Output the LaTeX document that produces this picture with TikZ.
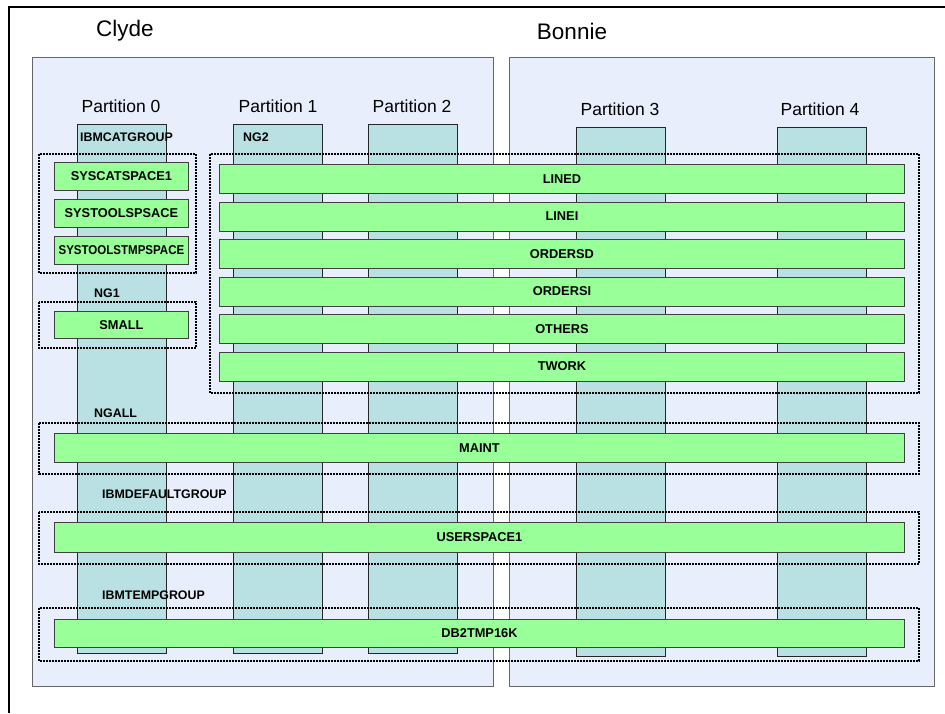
\documentclass[tikz,border=0pt]{standalone}
\usepackage{fontspec}
\setmainfont{Liberation Sans}
\begin{document}
\begin{tikzpicture}[x=1pt,y=-1pt,
  machine/.style={draw=black!60,fill=machinefill,line width=1pt},
  partcol/.style={draw=black!85,fill=colfill,line width=0.9pt},
  groupbox/.style={draw=black,line width=2.8pt,dash pattern=on 2pt off 1pt},
  tsbar/.style={draw=black!75,fill=barfill,line width=0.9pt,anchor=north west,inner sep=0pt,
    font=\fontsize{12.8}{14}\selectfont\bfseries},
  hostlabel/.style={font=\fontsize{22.5}{26}\selectfont},
  partlabel/.style={font=\fontsize{17.5}{20}\selectfont},
  grouplabel/.style={anchor=west,inner sep=0pt,font=\fontsize{12.4}{14}\selectfont\bfseries}]
\definecolor{machinefill}{HTML}{E9EEFC}
\definecolor{colfill}{HTML}{B9E0E3}
\definecolor{barfill}{HTML}{99FF99}
\useasboundingbox (0,0) rectangle (945,713);
% outer frame
\draw[line width=2pt] (945,7) -- (9,7) -- (9,713);
% machines
\node[machine,anchor=north west,minimum width=461pt,minimum height=629pt,inner sep=0pt] (clydebox) at (32,57) {};
\node[machine,anchor=north west,minimum width=425pt,minimum height=629pt,inner sep=0pt] (bonniebox) at (509,57) {};
\node[hostlabel] (clyde) at (125,31) {Clyde};
\node[hostlabel] (bonnie) at (572,31) {Bonnie};
% partitions
\foreach \n/\x/\t in {0/77/124,1/233/124,2/368/124,3/576/127,4/777/127}{
  \node[partcol,anchor=north west,minimum width=89pt,minimum height=529pt,inner sep=0pt] (p\n) at (\x,\t) {};
}
\node[partlabel] (pl0) at (121,106) {Partition 0};
\node[partlabel] (pl1) at (278,106) {Partition 1};
\node[partlabel] (pl2) at (412,106) {Partition 2};
\node[partlabel] (pl3) at (620,109) {Partition 3};
\node[partlabel] (pl4) at (820,109) {Partition 4};
% partition groups
\draw[groupbox] (39,154) rectangle (196,273);
\draw[groupbox] (39,302) rectangle (196,348);
\draw[groupbox] (210,154) rectangle (919,393);
\draw[groupbox] (39,423) rectangle (919,474);
\draw[groupbox] (39,512) rectangle (919,564);
\draw[groupbox] (39,608) rectangle (919,661);
\node[grouplabel] (gcat) at (80,137) {IBMCATGROUP};
\node[grouplabel] (gng2) at (243,137) {NG2};
\node[grouplabel] (gng1) at (94,293) {NG1};
\node[grouplabel] (gngall) at (94,413) {NGALL};
\node[grouplabel] (gdef) at (102,494) {IBMDEFAULTGROUP};
\node[grouplabel] (gtmp) at (102,595) {IBMTEMPGROUP};
% table spaces on partition 0
\node[tsbar,minimum width=134pt,minimum height=28pt] (syscat) at (54,162) {SYSCATSPACE1};
\node[tsbar,minimum width=134pt,minimum height=28pt] (systools) at (54,199) {SYSTOOLSPSACE};
\node[tsbar,minimum width=134pt,minimum height=28pt] (systmp) at (54,236) {\scalebox{0.9}[1]{SYSTOOLSTMPSPACE}};
\node[tsbar,minimum width=134pt,minimum height=27pt] (small) at (54,311) {SMALL};
% table spaces on NG2
\node[tsbar,minimum width=685pt,minimum height=29pt] (lined) at (219,164) {LINED};
\node[tsbar,minimum width=685pt,minimum height=29pt] (linei) at (219,201.5) {LINEI};
\node[tsbar,minimum width=685pt,minimum height=29pt] (ordersd) at (219,239) {ORDERSD};
\node[tsbar,minimum width=685pt,minimum height=29pt] (ordersi) at (219,276.5) {ORDERSI};
\node[tsbar,minimum width=685pt,minimum height=29pt] (others) at (219,314) {OTHERS};
\node[tsbar,minimum width=685pt,minimum height=29pt] (twork) at (219,351.5) {TWORK};
% table spaces across all partitions
\node[tsbar,minimum width=850pt,minimum height=29pt] (maint) at (54,433) {MAINT};
\node[tsbar,minimum width=850pt,minimum height=30pt] (userspace) at (54,522) {USERSPACE1};
\node[tsbar,minimum width=850pt,minimum height=28pt] (tmp16k) at (54,619) {DB2TMP16K};
\end{tikzpicture}
\end{document}
